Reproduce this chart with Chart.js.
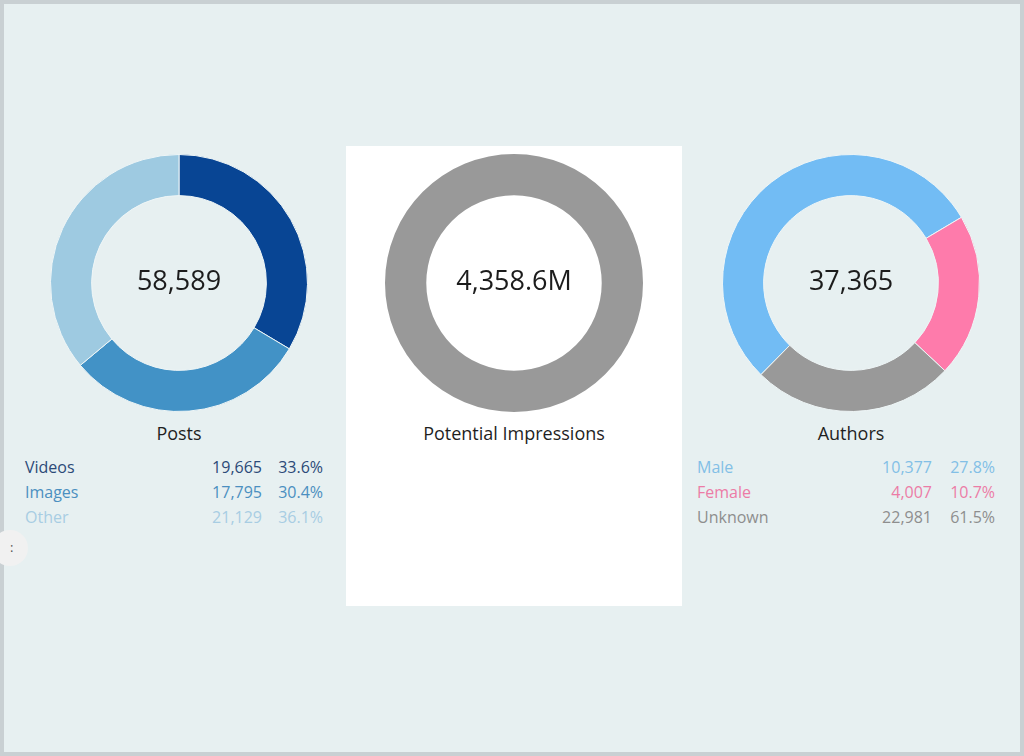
<!DOCTYPE html>
<html>
<head>
<meta charset="utf-8">
<script src="https://cdn.jsdelivr.net/npm/chart.js@4.4.1/dist/chart.umd.min.js"></script>
<style>
  html, body { margin: 0; padding: 0; }
  body { width: 1024px; height: 756px; overflow: hidden; font-family: "Open Sans", "Noto Sans", sans-serif; }
  .frame { position: absolute; left: 0; top: 0; width: 1016px; height: 748px; background: #e7f0f1; border: 4px solid #c9d0d3; }
  .panel { position: absolute; left: 342px; top: 142px; width: 336px; height: 460px; background: #fff; }
  .ring { position: absolute; top: 154px; width: 258px; height: 258px; }
  .title { position: absolute; top: 421px; width: 300px; text-align: center; font-size: 18px; color: #1f1f1f; }
  .legend { position: absolute; top: 455px; font-size: 16px; line-height: 25px; }
  .legend .row { position: relative; height: 25px; }
  .legend .lab { position: absolute; left: 0; }
  .legend .num { position: absolute; text-align: right; }
  .legend .pct { position: absolute; text-align: right; }
  .nub { position: absolute; left: -12px; top: 526px; width: 36px; height: 36px; border-radius: 50%; background: #f1f1f1; }
  .nub span { position: absolute; left: 18px; top: 8px; font-size: 13px; color: #555; }
</style>
</head>
<body>
<div class="frame">
  <div class="panel"></div>
  <div class="nub"><span>:</span></div>
</div>
<canvas id="posts" class="ring" style="left:50px"></canvas>
<canvas id="impr" class="ring" style="left:385px"></canvas>
<canvas id="authors" class="ring" style="left:722px"></canvas>
<div class="title" style="left:29px">Posts</div>
<div class="title" style="left:364px">Potential Impressions</div>
<div class="title" style="left:701px">Authors</div>
<div id="legPosts" class="legend" style="left:25px;width:298px"></div>
<div id="legAuthors" class="legend" style="left:697px;width:298px"></div>
<script>
/* Posts */
const postLabels = ['Videos', 'Images', 'Other'];
const postCounts = ['19,665', '17,795', '21,129'];
const postPcts = ['33.6%', '30.4%', '36.1%'];
const postShares = [33.6, 30.4, 36.1];
const postRing = ['#084594', '#4292c6', '#9ecae1'];
const postText = ['#2c4a78', '#4b8fc0', '#a8cde3'];
const postTotal = '58,589';

/* Potential Impressions */
const imprShares = [100];
const imprTotal = '4,358.6M';

/* Authors (legend values, and ring shares as drawn) */
const authorLabels = ['Male', 'Female', 'Unknown'];
const authorCounts = ['10,377', '4,007', '22,981'];
const authorPcts = ['27.8%', '10.7%', '61.5%'];
const authorShares = [54.1, 20.5, 25.4];
const authorRing = ['#72bcf4', '#fe7bab', '#999999'];
const authorText = ['#82bfe6', '#ec7ca6', '#8e8e8e'];
const authorTotal = '37,365';

Chart.defaults.font.family = '"Open Sans", "Noto Sans", sans-serif';
Chart.defaults.animation = false;

const centerText = {
  id: 'centerText',
  afterDraw(chart, args, opts) {
    const { ctx, chartArea } = chart;
    ctx.save();
    ctx.font = '27px "Open Sans", sans-serif';
    ctx.fillStyle = '#1c1c1c';
    ctx.textAlign = 'center';
    ctx.textBaseline = 'middle';
    ctx.fillText(opts.text, (chartArea.left + chartArea.right) / 2, (chartArea.top + chartArea.bottom) / 2 - 1);
    ctx.restore();
  },
};

function ring(id, shares, colors, total, rotation, border) {
  return new Chart(document.getElementById(id), {
    type: 'doughnut',
    data: { labels: shares.map((_, i) => i), datasets: [{ data: shares, backgroundColor: colors,
      borderColor: '#eef5f6', borderWidth: border }] },
    options: {
      responsive: false, cutout: '68%', rotation,
      layout: { padding: 0 },
      plugins: { legend: { display: false }, tooltip: { enabled: false }, centerText: { text: total } },
      events: [],
    },
    plugins: [centerText],
  });
}

function legend(id, labels, counts, pcts, colors, numRight) {
  const el = document.getElementById(id);
  el.innerHTML = labels.map((l, i) => `
    <div class="row" style="color:${colors[i]}">
      <span class="lab">${l}</span>
      <span class="num" style="right:${numRight}px">${counts[i]}</span>
      <span class="pct" style="right:0">${pcts[i]}</span>
    </div>`).join('');
}

function size(id) { const c = document.getElementById(id); c.width = 258; c.height = 258; }
['posts', 'impr', 'authors'].forEach(size);

ring('posts', postShares, postRing, postTotal, 0, 1);
ring('impr', imprShares, ['#999999'], imprTotal, 0, 0);
ring('authors', authorShares, authorRing, authorTotal, -135.5, 1);

legend('legPosts', postLabels, postCounts, postPcts, postText, 61);
legend('legAuthors', authorLabels, authorCounts, authorPcts, authorText, 63);
</script>
</body>
</html>
